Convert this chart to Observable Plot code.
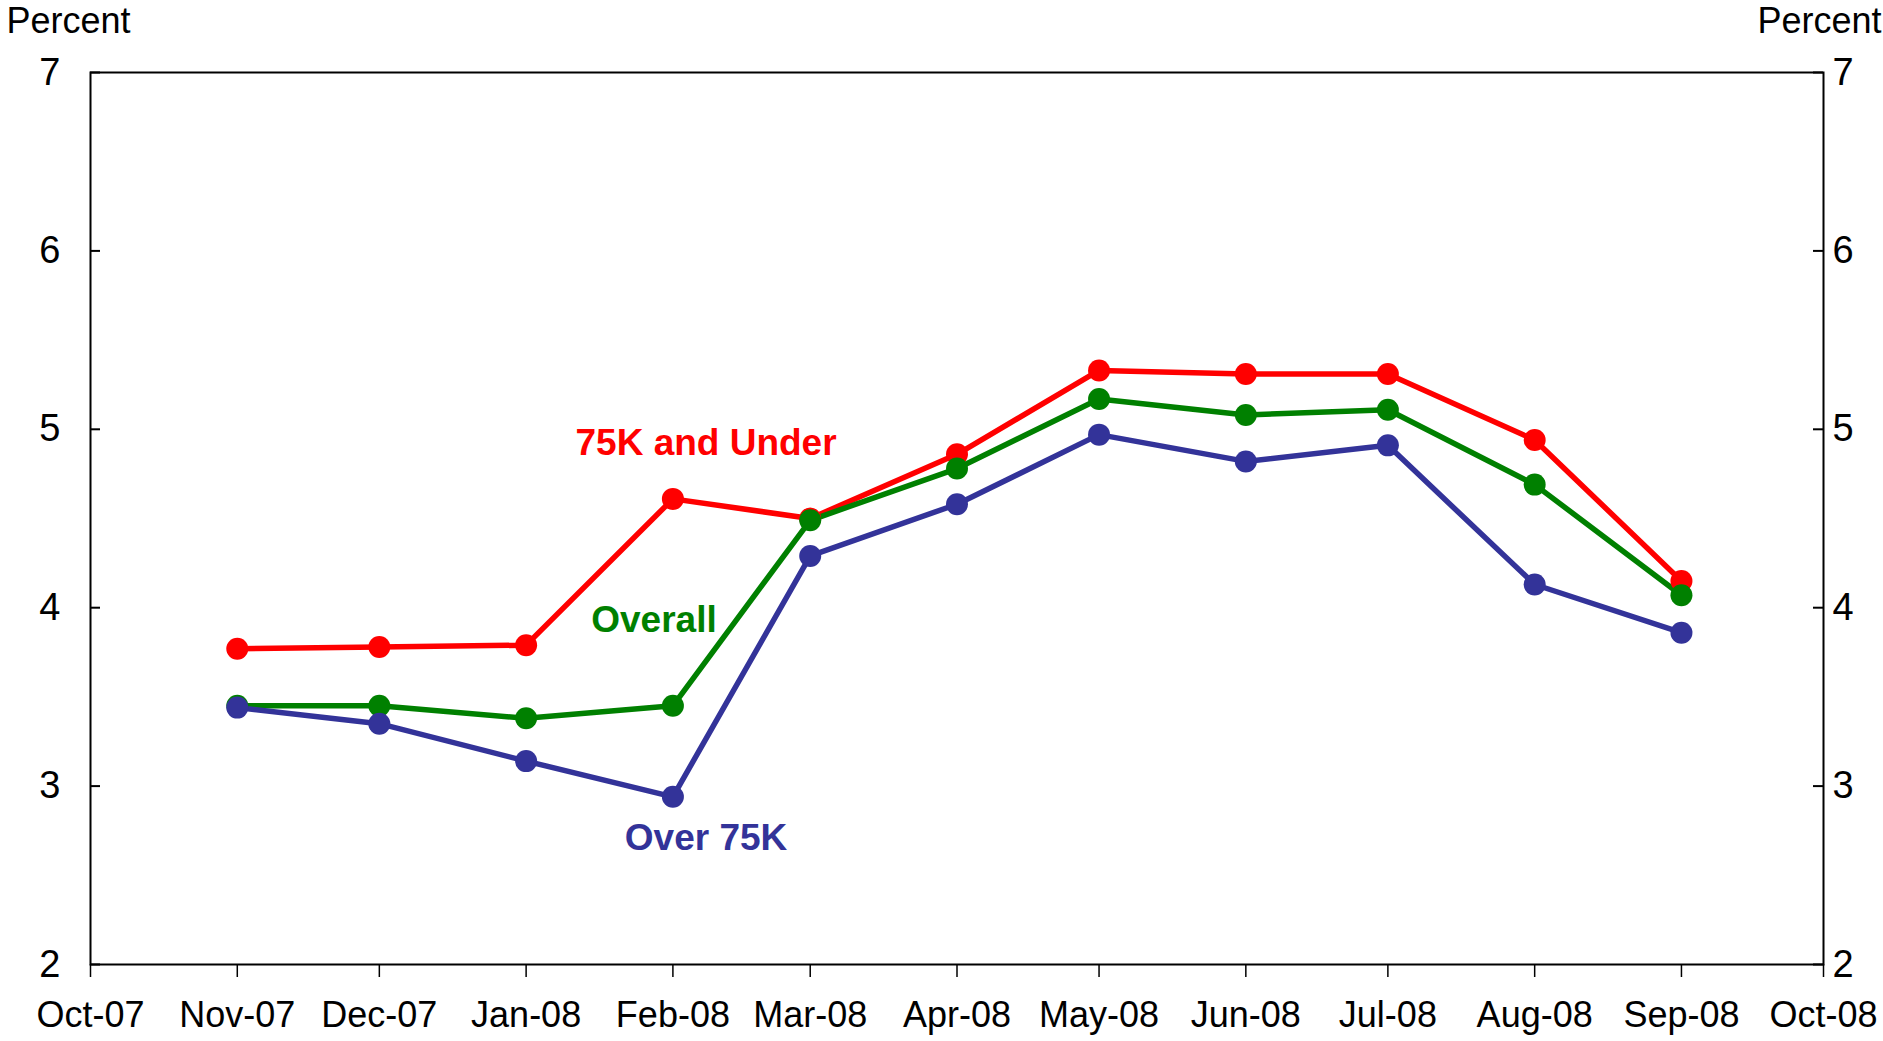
<!DOCTYPE html>
<html>
<head>
<meta charset="utf-8">
<script src="https://cdn.jsdelivr.net/npm/d3@7"></script>
<script src="https://cdn.jsdelivr.net/npm/@observablehq/plot@0.6"></script>
<style>
  html, body { margin: 0; padding: 0; background: #fff; }
  #chart svg { display: block; }
</style>
</head>
<body>
<div id="chart"></div>
<script>
// Months (first of month)
const months = ["2007-11-01","2007-12-01","2008-01-01","2008-02-01","2008-03-01","2008-04-01","2008-05-01","2008-06-01","2008-07-01","2008-08-01","2008-09-01"];
const under75K = [3.77, 3.78, 3.79, 4.61, 4.50, 4.86, 5.33, 5.31, 5.31, 4.94, 4.15];
const overall  = [3.45, 3.45, 3.38, 3.45, 4.49, 4.78, 5.17, 5.08, 5.11, 4.69, 4.07];
const over75K  = [3.44, 3.35, 3.14, 2.94, 4.29, 4.58, 4.97, 4.82, 4.91, 4.13, 3.86];
const seriesNames = ["75K and Under", "Overall", "Over 75K"];
const seriesColors = ["#ff0000", "#008000", "#333399"];
const yTicks = [2, 3, 4, 5, 6, 7];
const xDomain = ["2007-10-01", "2008-10-01"];
const xTickDates = ["2007-10-01","2007-11-01","2007-12-01","2008-01-01","2008-02-01","2008-03-01","2008-04-01","2008-05-01","2008-06-01","2008-07-01","2008-08-01","2008-09-01","2008-10-01"];
const xTickLabels = ["Oct-07","Nov-07","Dec-07","Jan-08","Feb-08","Mar-08","Apr-08","May-08","Jun-08","Jul-08","Aug-08","Sep-08","Oct-08"];
// Series label annotation positions (date, value)
const labelDates = ["2008-02-08", "2008-01-28", "2008-02-08"];
const labelValues = [4.92, 3.93, 2.71];

const parse = d3.utcParse("%Y-%m-%d");
const valuesBySeries = [under75K, overall, over75K];
const data = [];
seriesNames.forEach((s, i) => {
  months.forEach((m, j) => data.push({series: s, date: parse(m), value: valuesBySeries[i][j]}));
});
const labels = seriesNames.map((s, i) => ({series: s, date: parse(labelDates[i]), value: labelValues[i]}));
const tickDates = xTickDates.map(parse);
const tickLabelMap = new Map(tickDates.map((d, i) => [+d, xTickLabels[i]]));

const W = 1883, H = 1041;
const mL = 90, mR = 60, mT = 72, mB = 77;
const plotW = W - mL - mR;
const font = "'Liberation Sans', Arial, sans-serif";

const chart = Plot.plot({
  width: W,
  height: H,
  marginLeft: mL,
  marginRight: mR,
  marginTop: mT,
  marginBottom: mB,
  style: {fontFamily: font, fontSize: "36px", color: "#000", background: "#fff"},
  x: {type: "utc", domain: xDomain.map(parse)},
  y: {domain: [2, 7]},
  color: {domain: seriesNames, range: seriesColors},
  marks: [
    Plot.axisY(yTicks, {anchor: "left", tickSize: 0, tickPadding: 30, label: null, fontSize: 38, tickFormat: d3.format("d")}),
    Plot.axisY(yTicks, {anchor: "right", tickSize: 0, tickPadding: 9, label: null, fontSize: 38, tickFormat: d3.format("d")}),
    Plot.axisX(tickDates, {anchor: "bottom", tickSize: 13, tickPadding: 24, strokeWidth: 1.5, label: null, fontSize: 36,
      tickFormat: d => tickLabelMap.get(+d)}),
    Plot.tickY(yTicks, {y: d => d, stroke: "#000", strokeWidth: 2, insetRight: plotW - 10}),
    Plot.tickY(yTicks, {y: d => d, stroke: "#000", strokeWidth: 2, insetLeft: plotW - 10}),
    Plot.frame({stroke: "#000", strokeWidth: 2}),
    Plot.line(data, {x: "date", y: "value", z: "series", stroke: "series", strokeWidth: 5.5}),
    Plot.dot(data, {x: "date", y: "value", fill: "series", r: 11}),
    Plot.text(labels, {x: "date", y: "value", text: "series", fill: "series", fontWeight: "bold", fontSize: 37}),
    Plot.text(["Percent"], {frameAnchor: "top-left", text: d => d, textAnchor: "start", dx: -84, dy: -65, fontSize: 36}),
    Plot.text(["Percent"], {frameAnchor: "top-right", text: d => d, textAnchor: "end", dx: 58, dy: -65, fontSize: 36})
  ]
});
document.getElementById("chart").appendChild(chart);
</script>
</body>
</html>
